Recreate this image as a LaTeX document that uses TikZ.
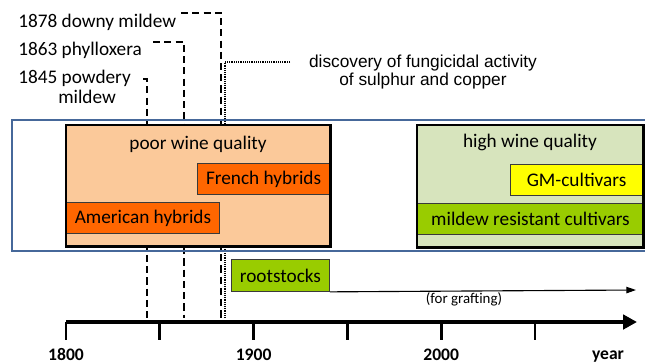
\documentclass[tikz,border=0pt]{standalone}
\usepackage{fontspec}
\setmainfont{Carlito}
\newfontfamily\arialfont{Liberation Sans}
\usepackage{tikz}
\usetikzlibrary{arrows.meta,positioning}
\definecolor{FrameBlue}{HTML}{46689A}
\definecolor{Peach}{HTML}{FBC99A}
\definecolor{HybridOrange}{HTML}{FF6600}
\definecolor{PaleGreen}{HTML}{D7E4BD}
\definecolor{LeafGreen}{HTML}{99CC00}
\definecolor{GMYellow}{HTML}{FFFF00}
\definecolor{EdgeGray}{HTML}{3A3A3A}

\begin{document}
\begin{tikzpicture}[x=0.025cm, y=-0.025cm,
  every node/.style={inner sep=0pt, font=\fontsize{13.7}{16}\selectfont},
  period/.style={line width=2.1pt, outer sep=0pt, anchor=north west},
  cultivar/.style={draw=EdgeGray, line width=0.6pt, minimum height=0.775cm},
  outbreak/.style={line width=1.4pt, dash pattern=on 5pt off 3pt},
  fungicide/.style={line width=1.2pt, dash pattern=on 0.7pt off 0.6pt},
  yearlbl/.style={font=\fontsize{12.5}{14}\selectfont\bfseries}]
  \useasboundingbox (0,0) rectangle (645,363);

  % Outbreaks and the fungicide discovery
  \foreach \x/\ytop/\xl/\nm in {147/79/143/pm, 184/42/153/ph, 221/13/181/dm}
  {%
    \coordinate (\nm top) at (\xl,\ytop);
    \coordinate (\nm foot) at (\x,318);
    \draw[outbreak] (\nm top) -- (\x,\ytop) -- (\nm foot);
  }
  \coordinate (fctop) at (290,62);
  \coordinate (fcfoot) at (225,318);
  \draw[fungicide] (fctop) -- (225,62) -- (fcfoot);

  % Labels
  \node[anchor=base west] (dmlbl) at (18,27.5) {1878 downy mildew};
  \node[anchor=base west] (phlbl) at (18,55) {1863 phylloxera};
  \node[anchor=base west] (pmlbl) at (18,83.5) {1845 powdery};
  \node[anchor=base west] (pmlbl2) at (58,103.5) {mildew};
  \node[align=center, font=\arialfont\fontsize{12.3}{12.8}\selectfont]
    (fclbl) at (423,72.5) {discovery of fungicidal activity\\of sulphur and copper};

  % Frame
  \draw[FrameBlue, line width=1.5pt] (650,120) -- (12,120) -- (12,251) -- (650,251);

  % Poor quality period
  \node[period, fill=Peach, minimum width=6.6cm, minimum height=3.025cm]
    (poor) at (66,125) {};
  \node[anchor=base] (poorlbl) at ([yshift=-0.6cm]poor.north) {poor wine quality};
  \node[cultivar, fill=HybridOrange, minimum width=3.3cm, anchor=north east]
    (french) at (330,163) {French hybrids};
  \node[cultivar, fill=HybridOrange, minimum width=3.825cm, anchor=north west]
    (american) at (66,202) {American hybrids};
  \draw[line width=2.1pt] (poor.north west) rectangle (poor.south east);

  % High quality period
  \node[period, fill=PaleGreen, minimum width=5.65cm, minimum height=3.05cm]
    (high) at (417,125) {};
  \node[anchor=base] (highlbl) at ([yshift=-0.57cm]high.north) {high wine quality};
  \node[cultivar, fill=GMYellow, minimum width=3.3cm, anchor=north east]
    (gm) at (643,164) {GM-cultivars};
  \node[cultivar, fill=LeafGreen, minimum width=5.65cm, anchor=north west]
    (resistant) at (417,203) {mildew resistant cultivars};
  \draw[line width=2.1pt] (high.north west) rectangle (high.south east);

  % Rootstocks
  \node[cultivar, fill=LeafGreen, minimum width=2.45cm, minimum height=0.8cm,
    anchor=north west] (roots) at (231,259) {rootstocks};
  \coordinate (graftend) at (636,290);
  \draw[line width=0.8pt, -{Triangle[length=2.4mm,width=1.6mm]}]
    (roots.south east) -- (graftend);
  \node[font=\fontsize{10.6}{12}\selectfont] (grafting) at (464,299) {(for grafting)};

  % Time axis
  \coordinate (axl) at (66,322);
  \coordinate (axr) at (637,322);
  \foreach \i in {0,...,5}
    \draw[line width=2.1pt] (66+93.8*\i,322) -- ++(0,18);
  \draw[line width=2.8pt, -{Triangle[length=0.35cm,width=0.36cm]}] (axl) -- (axr);
  \foreach \yr/\x in {1800/66, 1900/253.6, 2000/441.2}
    \node[yearlbl, anchor=base] (y\yr) at (\x,360.5) {\yr};
  \node[yearlbl, anchor=base] (yearlbl) at (608,359.5) {year};
\end{tikzpicture}
\end{document}
